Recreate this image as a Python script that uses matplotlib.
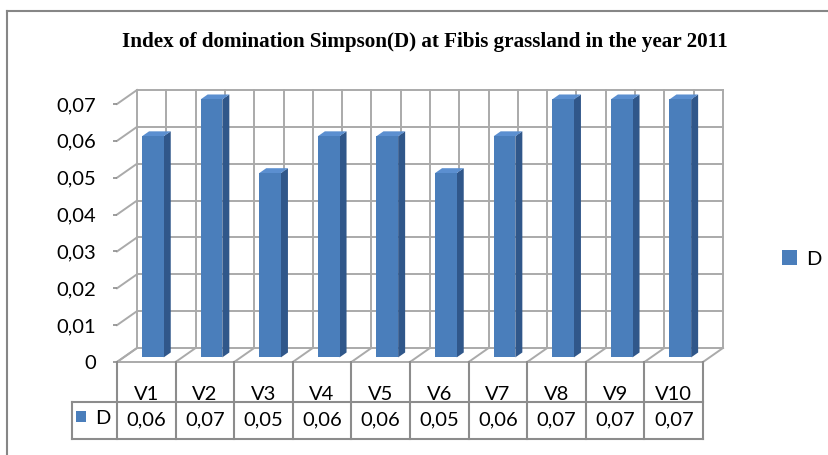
import numpy as np
import matplotlib
matplotlib.use("Agg")
import matplotlib.pyplot as plt
from matplotlib.patches import Polygon, Patch
from matplotlib.lines import Line2D

plt.rcParams['font.family'] = ['Lato', 'DejaVu Sans']

# data
categories = ["V1", "V2", "V3", "V4", "V5", "V6", "V7", "V8", "V9", "V10"]
values = [0.06, 0.07, 0.05, 0.06, 0.06, 0.05, 0.06, 0.07, 0.07, 0.07]
value_labels = ["0,06", "0,07", "0,05", "0,06", "0,06", "0,05", "0,06", "0,07", "0,07", "0,07"]
yticks = [0, 0.01, 0.02, 0.03, 0.04, 0.05, 0.06, 0.07]
ytick_labels = ["0", "0,01", "0,02", "0,03", "0,04", "0,05", "0,06", "0,07"]
series_name = "D"
title = "Index of domination Simpson(D) at Fibis grassland in the year 2011"

W, H = 829, 455
fs = 14.5
fig = plt.figure(figsize=(W / 100, H / 100), dpi=100)

# front plot area in pixels: x 117..703, y 104..362
ax = fig.add_axes((117 / W, 1 - 362 / H, (703 - 117) / W, (362 - 104) / H))
n = len(categories)
ymax = yticks[-1]
ax.set_xlim(0, n)
ax.set_ylim(0, ymax)
for s in ax.spines.values():
    s.set_visible(False)
ax.set_xticks([])
ax.set_yticks(yticks)
ax.set_yticklabels(ytick_labels, fontsize=fs)
ax.tick_params(axis='y', direction='out', length=3, width=1.2, color='#8c8c8c', pad=12)
ax.patch.set_visible(False)

# pixel -> data units
PX = n / (703 - 117)
PY = ymax / (362 - 104)
DX = 20 * PX   # depth offset of back wall
DY = 14 * PY

grid_c = '#aaaaaa'
gkw = dict(color=grid_c, lw=1.4, clip_on=False, zorder=1)

# back wall horizontal lines and left wall diagonals
for t in yticks:
    ax.plot([DX, n + DX], [t + DY, t + DY], **gkw)
    ax.plot([0, DX], [t, t + DY], **gkw)
# back wall verticals (every half category)
for k in np.arange(0, n + 0.01, 0.5):
    ax.plot([k + DX, k + DX], [DY, ymax + DY], **gkw)
# floor
ax.plot([0, n], [0, 0], **gkw)
for k in range(n + 1):
    ax.plot([k, k + DX], [0, DY], **gkw)

# bars
front_c = '#4a7ebb'
side_c = '#30578a'
top_c = '#5b8fd0'
bw = 0.37
d0 = 0.33
db = 0.35
for i, v in enumerate(values):
    x0 = i + 0.5 - bw / 2 + d0 * DX
    x1 = x0 + bw
    b = d0 * DY
    t = v + d0 * DY
    sdx, sdy = db * DX, db * DY
    ax.add_patch(Polygon([(x1, b), (x1 + sdx, b + sdy), (x1 + sdx, t + sdy), (x1, t)],
                         closed=True, fc=side_c, ec='none', clip_on=False, zorder=3))
    ax.add_patch(Polygon([(x0, t), (x1, t), (x1 + sdx, t + sdy), (x0 + sdx, t + sdy)],
                         closed=True, fc=top_c, ec='none', clip_on=False, zorder=3))
    ax.add_patch(Polygon([(x0, b), (x1, b), (x1, t), (x0, t)],
                         closed=True, fc=front_c, ec='none', clip_on=False, zorder=4))

# data table
tkw = dict(color='#8c8c8c', lw=1.5, clip_on=False, zorder=2)
r1 = -(402 - 362) * PY
r2 = -(439 - 362) * PY
key_left = (72 - 117) * PX
for k in range(n + 1):
    ax.plot([k, k], [0, r2], **tkw)
ax.plot([key_left, n], [r1, r1], **tkw)
ax.plot([key_left, n], [r2, r2], **tkw)
ax.plot([key_left, key_left], [r1, r2], **tkw)
for i, (c, lab) in enumerate(zip(categories, value_labels)):
    ax.text(i + 0.5, -(395 - 362) * PY, c, ha='center', va='center', fontsize=fs, zorder=1)
    ax.text(i + 0.5, -(420 - 362) * PY, lab, ha='center', va='center', fontsize=fs)
ax.add_patch(Polygon([(key_left + 4 * PX, -(411 - 362) * PY), (key_left + 14 * PX, -(411 - 362) * PY),
                      (key_left + 14 * PX, -(422 - 362) * PY), (key_left + 4 * PX, -(422 - 362) * PY)],
                     closed=True, fc=front_c, ec='none', clip_on=False))
ax.text(key_left + 23 * PX, -(418 - 362) * PY, series_name, ha='left', va='center', fontsize=fs)

# legend
fig.legend(handles=[Patch(fc=front_c, ec='none')], labels=[series_name], loc='center left',
           bbox_to_anchor=(764 / W, 1 - 259 / H), frameon=False, fontsize=fs,
           handlelength=0.75, handleheight=0.75, handletextpad=0.45)

# title
fig.text(425 / W, 1 - 42 / H, title, ha='center', va='center', fontsize=15.2,
         family='Liberation Serif', weight='bold')

# chart frame (top and left edges)
fig.add_artist(Line2D([7 / W, 1], [1 - 11 / H, 1 - 11 / H], color='#868686', lw=1.5))
fig.add_artist(Line2D([7 / W, 7 / W], [0, 1 - 11 / H], color='#868686', lw=1.5))

fig.savefig("out.png", dpi=100)
